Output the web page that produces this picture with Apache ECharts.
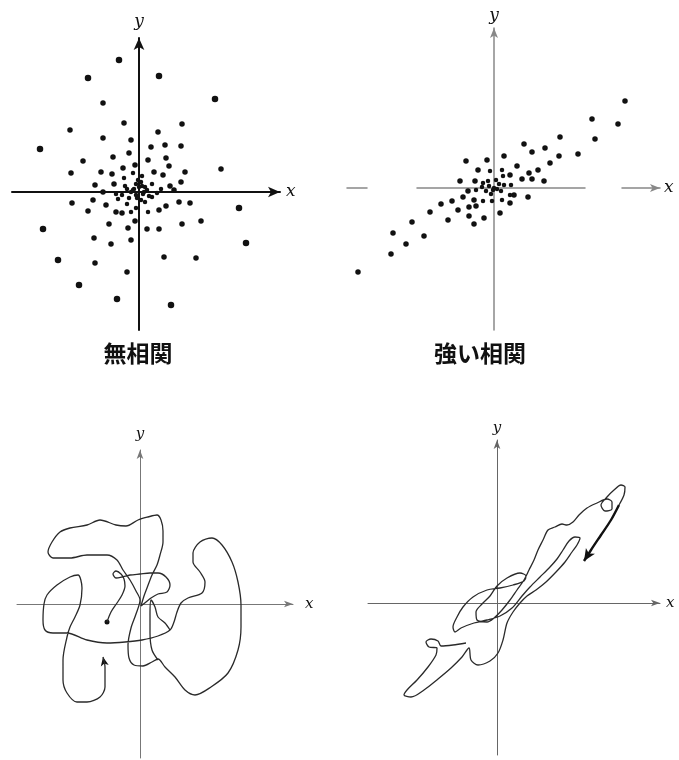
<!DOCTYPE html>
<html>
<head>
<meta charset="utf-8">
<script src="https://cdn.jsdelivr.net/npm/echarts@6/dist/echarts.min.js"></script>
<style>
  html, body { margin: 0; padding: 0; background: #fff; }
  #chart { width: 679px; height: 760px; }
</style>
</head>
<body>
<div id="chart"></div>
<script>
// Uncorrelated scatter (x, y)
const dotsNone = [
  [-20,132],[-51,114],[20,116],[76,93],[-36,89],[-15,69],[43,68],[-69,62],[19,60],
  [-36,54],[-8,52],[-99,43],[12,45],[26,47],[42,46],[-10,39],[-56,31],[-26,35],
  [9,32],[27,34],[-4,27],[30,26],[-16,24],[-68,19],[-38,20],[-27,18],[46,20],
  [82,23],[15,20],[24,17],[-15,14],[-6,19],[3,16],[42,10],[-44,7],[-25,8],
  [-14,6],[-3,8],[13,8],[31,6],[2,10],[6,5],[-5,3],[22,3],[-36,0],[-23,-2],
  [-17,-3],[-8,0],[5,0],[18,-1],[35,2],[-67,-11],[-46,-8],[-33,-13],[-21,-7],
  [-12,-12],[2,-8],[13,-5],[27,-14],[40,-10],[51,-11],[100,-16],[-51,-19],
  [-23,-20],[-17,-21],[-8,-20],[9,-20],[20,-18],[-3,-16],[62,-29],[-96,-37],
  [-30,-32],[-4,-29],[-11,-36],[8,-37],[20,-37],[43,-32],[-45,-46],[-28,-52],
  [-8,-48],[107,-51],[-81,-68],[-44,-71],[25,-65],[57,-66],[-12,-80],[-60,-93],
  [-22,-107],[32,-113],
  [0,5],[-3,-3],[4,-2],[-6,2],[8,2],[-2,-6],[10,-4],[-10,-6],[6,-10],[-1,12],[-12,3],[3,6]
];

// Strongly correlated scatter (x, y)
const dotsStrong = [
  [131,87],[98,69],[124,64],[101,49],[66,51],[30,44],[51,40],[84,34],[38,36],
  [65,32],[56,25],[10,32],[-7,28],[-28,27],[23,22],[44,18],[35,15],[-16,18],
  [-4,17],[8,18],[16,13],[28,9],[38,9],[50,7],[-34,7],[-19,7],[-11,5],[-6,7],
  [2,8],[9,12],[17,3],[-26,-3],[-18,-2],[-8,-3],[-1,-2],[7,-3],[16,-7],[20,-7],
  [34,-9],[-42,-13],[-53,-16],[-31,-9],[-20,-12],[-11,-13],[-2,-13],[8,-12],
  [16,-15],[-36,-22],[-25,-19],[-18,-18],[-64,-24],[-46,-32],[-25,-28],[-10,-30],
  [6,-25],[-20,-36],[-82,-34],[-101,-45],[-70,-48],[-88,-56],[-103,-66],[-136,-84],
  [-5,2],[3,-1],[-12,1],[5,4],[-3,-6],[10,3],[0,0]
];

// Wandering trajectory: main stroke from the start dot to the arrow
const wanderPath = [
  [-33,-18],[-29,-8],[-23,1],[-18,9],[-15,18],[-16,25],[-19,30],[-24,33],[-27,30],
  [-24,26],[-18,27],[-10,29],[0,30],[10,31],[18,31],[26,27],[30,19],[27,12],[18,10],
  [11,6],[6,2],[1,-2],
  [4,8],[7,16],[12,29],[17,39],[20,49],[23,62],[23,73],[21,84],[17,89],[8,87],
  [-2,84],[-14,78],[-24,79],[-40,84],[-53,79],[-70,76],[-80,72],[-88,62],[-92,52],
  [-87,46],[-70,46],[-53,49],[-33,49],[-23,44],[-17,34],[-10,24],[-4,13],[0,4],
  [-4,-10],[-9,-24],[-12,-41],[-11,-54],[-6,-61],[3,-62],[12,-58],[18,-55],
  [25,-63],[35,-73],[45,-86],[55,-91],[71,-83],[88,-69],[98,-46],[101,-23],[101,-1],
  [98,22],[92,42],[82,59],[72,66],[60,62],[53,51],[53,42],[60,32],[65,22],[62,11],
  [48,6],[41,1],[37,-8],[34,-18],[30,-26],
  [18,-32],[2,-36],[-15,-38],[-33,-39],[-53,-36],[-73,-29],[-87,-29],[-95,-26],
  [-97,-16],[-96,0],[-93,9],[-83,19],[-70,27],[-62,29],[-58,16],[-60,-1],[-65,-13],
  [-70,-23],[-73,-33],[-77,-56],[-77,-76],[-73,-89],[-63,-98],[-53,-98],[-40,-93],
  [-35,-83],[-35,-63],[-37,-53]
];
// Wandering trajectory: short stroke through the centre crossing
const wanderLink = [
  [30,-26],[25,-19],[18,-13],[15,-3],[11,4],[10,-11],[10,-29],[12,-46],[18,-56]
];

// Drifting trajectory along the diagonal
const driftPath = [
  [-31,-40],[-44,-42],[-56,-43],[-59,-38],[-66,-36],[-71,-39],[-68,-44],[-60,-45],
  [-61,-52],[-69,-64],[-80,-77],[-90,-87],[-93,-92],[-86,-94],[-73,-87],[-59,-76],
  [-46,-65],[-35,-54],[-28,-45],[-26,-57],[-19,-62],[-7,-58],[1,-50],[6,-37],[10,-20],
  [16,-9],[23,0],[30,7],[39,13],[49,21],[59,31],[68,41],[75,51],[80,58],[83,65],
  [78,66],[72,62],[66,53],[60,44],[53,36],[43,26],[33,16],[25,7],[15,-5],[3,-13],
  [-10,-17],[-23,-20],[-36,-25],[-42,-29],[-44,-24],[-40,-14],[-34,-4],[-24,6],
  [-10,13],[3,15],[16,18],[27,22],[29,27],[23,30],[10,25],[0,17],[-7,7],[-15,-1],
  [-21,-9],[-20,-17],[-10,-19],[-3,-15],[5,-7],[13,3],[20,13],[27,23],[32,33],
  [37,43],[41,53],[46,63],[51,73],[58,76],[65,79],[70,78],[76,81],[82,88],[90,95],
  [100,100],[110,104],[115,101],[115,94],[108,92],[104,98],[110,106],[117,113],
  [124,118],[128,116],[127,108],[122,98]
];
// Final heavy stroke of the drifting trajectory
const driftArrow = [[122,98],[114,83],[104,68],[94,53],[87,42]];

const captions = ['無相関', '強い相関'];

// Axis ranges per panel: [xmin, xmax, ymin, ymax]
const ranges = [
  [-127, 141, -138, 154],
  [-147, 166, -142, 160],
  [-123, 153, -154, 154],
  [-129, 163, -152, 163]
];

const grids = [
  { left: 12,  top: 38,  width: 268, height: 292 },
  { left: 347, top: 28,  width: 313, height: 302 },
  { left: 17,  top: 450, width: 276, height: 308 },
  { left: 368, top: 440, width: 292, height: 315 }
];

const axisLook = [
  { color: '#111', width: 2,   arrow: [8, 12], font: 17, xGap: 6,  yGap: 8, xType: 'solid' },
  { color: '#888', width: 1.5, arrow: [6, 10], font: 17, xGap: 4,  yGap: 4, xType: [20, 50, 168, 37, 38] },
  { color: '#777', width: 1,   arrow: [5, 9],  font: 15, xGap: 12, yGap: 8, xType: 'solid' },
  { color: '#666', width: 1,   arrow: [5, 9],  font: 15, xGap: 6,  yGap: 4, xType: 'solid' }
];

function makeAxis(i, dim) {
  const r = ranges[i], look = axisLook[i];
  const isX = dim === 'x';
  return {
    gridIndex: i,
    type: 'value',
    min: isX ? r[0] : r[2],
    max: isX ? r[1] : r[3],
    axisLine: {
      show: true,
      onZero: true,
      symbol: ['none', 'arrow'],
      symbolSize: look.arrow,
      lineStyle: { color: look.color, width: look.width, type: isX ? look.xType : 'solid' }
    },
    axisTick: { show: false },
    axisLabel: { show: false },
    splitLine: { show: false },
    name: dim,
    nameLocation: 'end',
    nameGap: isX ? look.xGap : look.yGap,
    nameTextStyle: {
      fontFamily: 'DejaVu Serif',
      fontStyle: 'italic',
      fontSize: look.font,
      color: '#111'
    }
  };
}

// Heading of a stroke's last segment, as a symbol rotation (degrees, counter-clockwise)
function heading(pts) {
  const a = pts[pts.length - 2], b = pts[pts.length - 1];
  return Math.atan2(-(b[0] - a[0]), b[1] - a[1]) * 180 / Math.PI;
}

function dotSize(v) {
  const d = Math.hypot(v[0], v[1]);
  if (d < 25) return 4.5;
  if (d > 100) return 6.5;
  return 5.5;
}

const strokeStyle = { color: '#2a2a2a', width: 1.3 };
const dotStyle = { color: '#111', opacity: 1 };

const chart = echarts.init(document.getElementById('chart'), null, { renderer: 'canvas' });
chart.setOption({
  backgroundColor: '#fff',
  animation: false,
  grid: grids,
  xAxis: [0, 1, 2, 3].map(i => makeAxis(i, 'x')),
  yAxis: [0, 1, 2, 3].map(i => makeAxis(i, 'y')),
  graphic: [
    { type: 'text', x: 138, y: 353, style: { text: captions[0], fontFamily: 'Noto Sans CJK JP', fontWeight: 'bold', fontSize: 23, fill: '#111', textAlign: 'center', textVerticalAlign: 'middle' } },
    { type: 'text', x: 480, y: 353, style: { text: captions[1], fontFamily: 'Noto Sans CJK JP', fontWeight: 'bold', fontSize: 23, fill: '#111', textAlign: 'center', textVerticalAlign: 'middle' } }
  ],
  series: [
    {
      type: 'scatter', xAxisIndex: 0, yAxisIndex: 0, data: dotsNone,
      symbol: 'circle', symbolSize: dotSize,
      itemStyle: dotStyle, silent: true
    },
    {
      type: 'scatter', xAxisIndex: 1, yAxisIndex: 1, data: dotsStrong,
      symbol: 'circle', symbolSize: v => (Math.hypot(v[0], v[1]) < 20 ? 4.5 : 5.5),
      itemStyle: dotStyle, silent: true
    },
    {
      type: 'line', xAxisIndex: 2, yAxisIndex: 2, data: wanderPath,
      showSymbol: false, symbol: 'none', smooth: 0.3,
      lineStyle: strokeStyle, silent: true
    },
    {
      type: 'line', xAxisIndex: 2, yAxisIndex: 2, data: wanderLink,
      showSymbol: false, symbol: 'none', smooth: 0.3,
      lineStyle: strokeStyle, silent: true
    },
    {
      type: 'scatter', xAxisIndex: 2, yAxisIndex: 2, data: [wanderPath[0]],
      symbol: 'circle', symbolSize: 5, itemStyle: dotStyle, silent: true
    },
    {
      type: 'scatter', xAxisIndex: 2, yAxisIndex: 2, data: [wanderPath[wanderPath.length - 1]],
      symbol: 'arrow', symbolSize: [6, 9], symbolRotate: heading(wanderPath),
      itemStyle: dotStyle, silent: true
    },
    {
      type: 'line', xAxisIndex: 3, yAxisIndex: 3, data: driftPath,
      showSymbol: false, symbol: 'none', smooth: 0.3,
      lineStyle: strokeStyle, silent: true
    },
    {
      type: 'line', xAxisIndex: 3, yAxisIndex: 3, data: driftArrow,
      showSymbol: false, symbol: 'none', smooth: 0.3,
      lineStyle: { color: '#111', width: 2.4 }, silent: true
    },
    {
      type: 'scatter', xAxisIndex: 3, yAxisIndex: 3, data: [driftArrow[driftArrow.length - 1]],
      symbol: 'arrow', symbolSize: [8, 12], symbolRotate: heading(driftArrow),
      itemStyle: dotStyle, silent: true
    }
  ]
});
</script>
</body>
</html>
